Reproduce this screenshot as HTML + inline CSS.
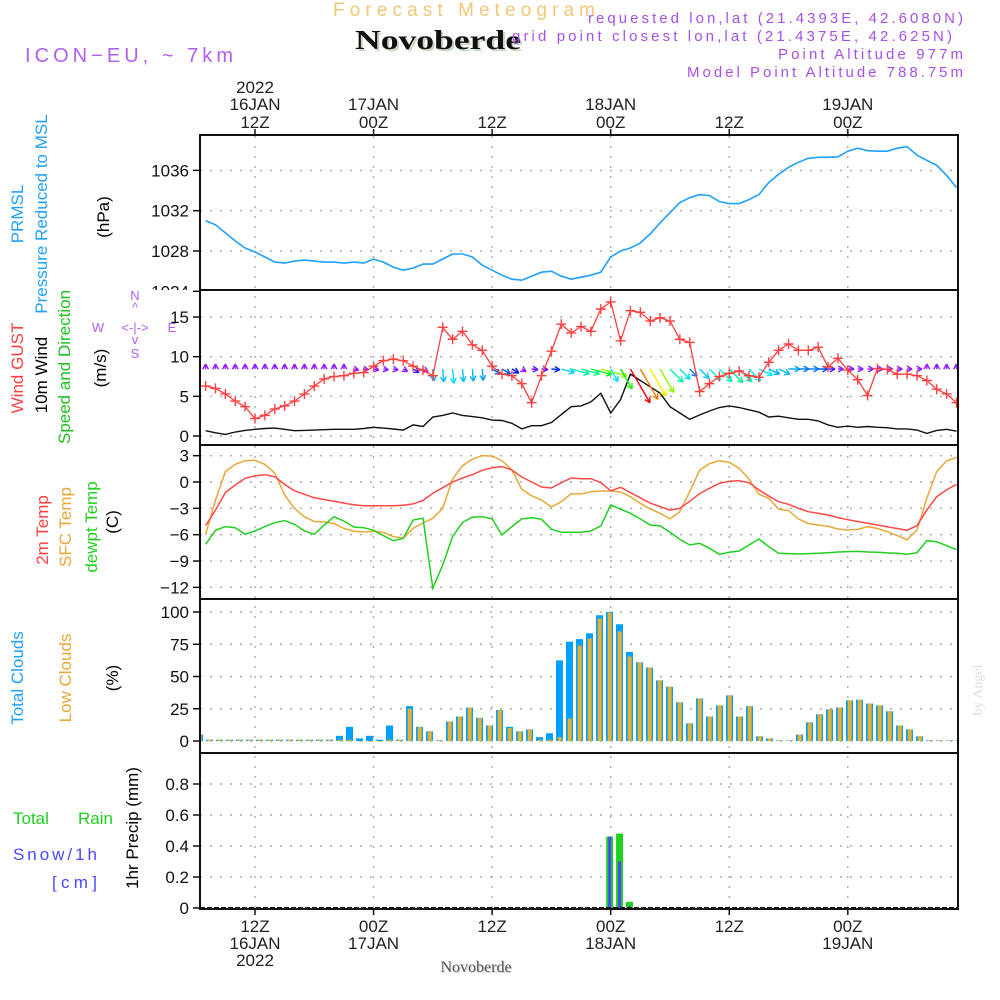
<!DOCTYPE html>
<html><head><meta charset="utf-8">
<style>
html,body{margin:0;padding:0;background:#fff;}
svg{display:block;font-family:"Liberation Sans",sans-serif;}
</style></head>
<body>
<svg id="chart" width="1000" height="1000" viewBox="0 0 1000 1000" xmlns="http://www.w3.org/2000/svg">
<defs>
<clipPath id="plotclip"><rect x="201" y="136" width="757" height="772"/></clipPath>
<clipPath id="pclip"><rect x="0" y="0" width="200" height="290"/></clipPath>
</defs>
<rect x="0" y="0" width="1000" height="1000" fill="#fff"/>
<!-- header -->
<text x="333" y="16" font-size="19" fill="#f0c878" textLength="262" lengthAdjust="spacing">Forecast Meteogram</text>
<text x="357" y="51" font-size="27" font-weight="bold" font-family="Liberation Serif, serif" fill="#c8d8c0" textLength="166" lengthAdjust="spacingAndGlyphs">Novoberde</text>
<text x="355" y="49" font-size="27" font-weight="bold" font-family="Liberation Serif, serif" fill="#111" textLength="166" lengthAdjust="spacingAndGlyphs">Novoberde</text>
<text x="25" y="62" font-size="20" fill="#b060f0" textLength="208" lengthAdjust="spacing">ICON−EU, ~ 7km</text>
<text x="963" y="23" font-size="15" fill="#a850e8" text-anchor="end" textLength="375" lengthAdjust="spacing">requested lon,lat (21.4393E, 42.6080N)</text>
<text x="952" y="41" font-size="15" fill="#a850e8" text-anchor="end" textLength="440" lengthAdjust="spacing">grid point closest lon,lat (21.4375E, 42.625N)</text>
<text x="963" y="59" font-size="15" fill="#a850e8" text-anchor="end" textLength="185" lengthAdjust="spacing">Point Altitude 977m</text>
<text x="963" y="77" font-size="15" fill="#a850e8" text-anchor="end" textLength="276" lengthAdjust="spacing">Model Point Altitude 788.75m</text>
<!-- left labels -->
<g font-size="17">
<text transform="translate(23,214) rotate(-90)" text-anchor="middle" fill="#20a0ff">PRMSL</text>
<text transform="translate(47,214) rotate(-90)" text-anchor="middle" fill="#20a0ff">Pressure Reduced to MSL</text>
<text transform="translate(109,217) rotate(-90)" text-anchor="middle" fill="#000">(hPa)</text>
<text transform="translate(23,368) rotate(-90)" text-anchor="middle" fill="#ff4040">Wind GUST</text>
<text transform="translate(47,375) rotate(-90)" text-anchor="middle" fill="#000">10m Wind</text>
<text transform="translate(70,367) rotate(-90)" text-anchor="middle" fill="#20c020">Speed and Direction</text>
<text transform="translate(106,368) rotate(-90)" text-anchor="middle" fill="#000">(m/s)</text>
<text transform="translate(48,530) rotate(-90)" text-anchor="middle" fill="#ff4040">2m Temp</text>
<text transform="translate(71,527) rotate(-90)" text-anchor="middle" fill="#e8a838">SFC Temp</text>
<text transform="translate(97,527) rotate(-90)" text-anchor="middle" fill="#20d020">dewpt Temp</text>
<text transform="translate(118,522) rotate(-90)" text-anchor="middle" fill="#000">(C)</text>
<text transform="translate(23,678) rotate(-90)" text-anchor="middle" fill="#20a0ff">Total Clouds</text>
<text transform="translate(71,678) rotate(-90)" text-anchor="middle" fill="#e8a838">Low Clouds</text>
<text transform="translate(118,678) rotate(-90)" text-anchor="middle" fill="#000">(%)</text>
<text transform="translate(138,828) rotate(-90)" text-anchor="middle" fill="#000">1hr Precip (mm)</text>
<text x="13" y="824" fill="#20d020">Total</text>
<text x="78" y="824" fill="#20d020">Rain</text>
<text x="13" y="860" fill="#4848ff" textLength="84" lengthAdjust="spacing">Snow/1h</text>
<text x="52" y="888" fill="#4848ff" textLength="45" lengthAdjust="spacing">[cm]</text>
</g>
<g font-size="13" fill="#b060f0" text-anchor="middle">
<text x="135" y="300">N</text><text x="135" y="312">^</text>
<text x="98" y="332">W</text><text x="135" y="332">&lt;-|-&gt;</text><text x="172" y="332">E</text>
<text x="135" y="344">v</text><text x="135" y="358">S</text>
</g>
<text transform="translate(982,690) rotate(-90)" text-anchor="middle" font-size="14" font-family="Liberation Serif, serif" fill="#ddd">by Angel</text>
<g id="grid"></g>
<g id="marks" clip-path="url(#plotclip)"></g>
<g id="axes"></g>
<text x="477" y="973" text-anchor="middle" font-size="16" font-family="Liberation Serif, serif" fill="#ccc">Novoberde</text>
<text x="476" y="972" text-anchor="middle" font-size="16" font-family="Liberation Serif, serif" fill="#555">Novoberde</text>
</svg>
<script>
// ---------- data ----------
const hourStart = -5; // hours relative to 16JAN 12Z
const pressure = [1031.0,1030.6,1029.8,1029.0,1028.3,1027.9,1027.4,1026.9,1026.8,1027.0,1027.1,1027.0,1026.9,1026.9,1026.8,1026.9,1026.8,1027.2,1026.9,1026.4,1026.1,1026.3,1026.7,1026.7,1027.2,1027.7,1027.7,1027.4,1026.6,1026.1,1025.6,1025.2,1025.1,1025.5,1025.9,1026.0,1025.5,1025.2,1025.4,1025.6,1025.9,1027.4,1028.0,1028.3,1028.8,1029.7,1030.8,1031.8,1032.8,1033.3,1033.6,1033.5,1032.9,1032.7,1032.7,1033.1,1033.6,1034.8,1035.6,1036.3,1036.8,1037.2,1037.3,1037.3,1037.35,1037.9,1038.2,1037.95,1037.9,1037.9,1038.2,1038.35,1037.5,1037.0,1036.5,1035.5,1034.3];
const gust = [6.3,6.0,5.3,4.4,3.7,2.2,2.6,3.4,3.8,4.4,5.3,6.3,7.2,7.5,7.6,7.9,8.0,8.8,9.5,9.7,9.5,8.8,8.3,7.6,13.7,12.2,13.2,11.5,10.8,8.8,7.8,7.6,6.6,4.2,7.6,10.7,14.1,13.0,13.8,13.2,16.0,16.9,12.0,15.8,15.6,14.5,14.9,14.5,12.2,11.8,5.6,6.6,7.5,7.9,8.2,7.6,7.4,9.3,10.8,11.6,10.8,10.8,11.2,8.7,9.8,8.3,7.1,5.1,8.5,8.4,7.8,7.8,7.6,7.0,5.9,5.3,4.2];
const wind10 = [0.67,0.4,0.2,0.5,0.7,0.85,0.95,1.0,0.85,0.67,0.7,0.75,0.8,0.85,0.85,0.85,0.95,1.1,1.0,0.88,0.75,1.4,1.2,2.4,2.6,2.9,2.6,2.45,2.3,2.0,1.95,1.6,0.9,1.3,1.3,1.7,2.7,3.7,3.8,4.3,5.4,2.9,4.6,7.8,7.0,6.2,5.4,3.7,2.9,2.1,2.65,3.15,3.6,3.8,3.6,3.3,3.0,2.4,2.5,2.3,2.1,2.1,1.9,1.4,1.1,1.25,1.1,1.2,1.1,1.05,0.9,0.9,0.75,0.33,0.7,0.85,0.6];
const windDir = [-90,-90,-90,-90,-90,-90,-90,-90,-90,-90,-90,-90,-90,-90,-90,10,10,10,10,10,30,30,30,85,85,85,85,85,85,30,30,30,30,5,5,5,15,15,15,15,15,60,60,60,60,60,60,45,45,45,45,45,45,45,45,45,25,25,25,0,0,0,0,0,0,0,0,0,0,0,0,0,0,-90,-90,-90,-90];
const t2m = [-4.97,-3.2,-1.2,-0.34,0.42,0.72,0.83,0.6,-0.27,-1.0,-1.4,-1.8,-2.0,-2.2,-2.4,-2.6,-2.7,-2.7,-2.7,-2.7,-2.65,-2.5,-2.1,-1.3,-0.65,0,0.45,0.83,1.33,1.63,1.75,1.37,0.57,0,-0.57,-0.68,-0.08,0.45,0.38,0.38,-0.08,-1.0,-0.6,-1.2,-1.8,-2.4,-2.8,-3.2,-3.0,-2.2,-1.33,-0.72,-0.15,0.08,0.15,-0.08,-0.9,-1.6,-2.24,-2.54,-3.0,-3.38,-3.57,-3.76,-4.06,-4.29,-4.5,-4.7,-4.9,-5.1,-5.3,-5.5,-4.97,-3.2,-1.67,-0.9,-0.27];
const tsfc = [-6.0,-2.05,1.18,2.0,2.43,2.47,2.0,1.0,-1.48,-3.0,-3.95,-4.5,-4.55,-4.74,-5.28,-5.6,-5.7,-5.6,-5.73,-6.22,-6.4,-5.28,-4.67,-4.14,-3.0,0.34,1.86,2.6,3.0,2.96,2.43,1.37,-0.83,-1.56,-2.05,-2.85,-2.24,-1.33,-1.37,-1.1,-1.02,-1.02,-1.14,-1.67,-2.43,-3.07,-3.57,-4.2,-3.38,-1.1,1.33,2.09,2.43,2.24,1.56,0.34,-1.4,-1.86,-3.1,-3.26,-4.2,-4.74,-4.9,-5.05,-5.35,-5.47,-5.4,-5.09,-5.28,-5.65,-6.1,-6.57,-5.47,-1.86,1.18,2.4,2.8];
const tdew = [-7.1,-5.5,-5.08,-5.2,-5.96,-5.58,-5.08,-4.63,-4.4,-4.82,-5.58,-5.96,-4.9,-3.95,-4.44,-5.12,-5.2,-5.5,-6.1,-6.68,-6.41,-4.33,-4.14,-12.1,-9.45,-6.22,-4.6,-4.0,-3.95,-4.2,-6.03,-5.08,-4.2,-4.06,-4.25,-5.39,-5.73,-5.73,-5.73,-5.58,-5.0,-2.62,-3.1,-3.57,-4.2,-4.9,-5.0,-5.73,-6.53,-7.17,-6.98,-7.55,-8.24,-8.0,-7.86,-7.17,-6.49,-7.36,-8.12,-8.16,-8.2,-8.16,-8.12,-8.05,-7.97,-7.93,-7.9,-7.97,-8.0,-8.08,-8.12,-8.24,-8.05,-6.68,-6.8,-7.25,-7.7];
const cloudStart = -6;
const cloudTotal = [5,1,1,1,1,1,1,1,1,1,1,1,1,1,4,11,2,4,1,12,1,27,11,7.5,0.5,15,19,26,18,12,24,11,7.5,9,3,6,62.5,77,79,83.5,97.5,100,90.5,69,61,57,47,42,30,13.7,33,19,27.6,35.4,19,27,3.6,2,0.5,0.5,5,14.5,20.7,24.5,26,31.5,32,29,27.6,23,12,9,3.6,0.5,0.5,0.5,0.5];
const cloudLow = [5,1,1,1,1,1,1,1,1,1,1,1,1,1,1,1,0,0,0,1,1,25,11,7.5,0.5,15,19,26,18,12,24,10,7.5,9,1,1,3,17.5,74,79.5,95,99.5,85,65.5,61,57,47,42,30,13.7,33,19,27.6,35.4,19,27,3.6,2,0.5,0.5,5,14.5,20.7,24.5,26,31.5,32,29,27.6,23,12,9,3.6,0.5,0.5,0.5,0.5];
const precipHours = [36,37,38];
const precipTotal = [0.46,0.48,0.04];
const precipSnow = [0.46,0.30,0.01];
const pTicks = [1024,1028,1032,1036];
const wTicks = [0,5,10,15];
const tTicks = [3,0,-3,-6,-9,-12];
const cTicks = [0,25,50,75,100];
const rTicks = [0,0.2,0.4,0.6,0.8];
const timeTicks = [0,12,24,36,48,60];
const timeLabelTop = [["2022","16JAN","12Z"],["","17JAN","00Z"],["","","12Z"],["","18JAN","00Z"],["","","12Z"],["","19JAN","00Z"]];
const timeLabelBottom = [["12Z","16JAN","2022"],["00Z","17JAN",""],["12Z","",""],["00Z","18JAN",""],["12Z","",""],["00Z","19JAN",""]];

// ---------- scales ----------
const X0 = 255, PXH = 9.88;
function x(h){ return X0 + h*PXH; }
function xBar(h){ return 209.5 + (h+5)*10; }
function yP(p){ return 251 - (p-1028)*10.08; }
function yW(v){ return 436 - v*7.93; }
function yT(t){ return 482 - t*8.78; }
function yC(c){ return 741 - c*1.29; }
function yR(r){ return 908 - r*155; }
const L = 200, R = 958;
const panels = [[135,290],[290,445],[445,599],[599,753],[753,909]];

const NS = "http://www.w3.org/2000/svg";
function mk(tag, attrs, parent){
  const el = document.createElementNS(NS, tag);
  for (const k in attrs) el.setAttribute(k, attrs[k]);
  parent.appendChild(el);
  return el;
}
const grid = document.getElementById('grid');
const marks = document.getElementById('marks');
const axes = document.getElementById('axes');

function hgrid(vals, f, name){
  vals.forEach(v => {
    const ln = mk('line', {x1:L, x2:R, y1:f(v), y2:f(v), stroke:'#aaa', 'stroke-width':1.4, 'stroke-dasharray':'2,8'}, grid);
    
    
  });
}
hgrid(pTicks.slice(1), yP, 'pressure');
hgrid(wTicks, yW, 'wind');
hgrid(tTicks, yT, 'temp');
hgrid(cTicks, yC, 'cloud');
hgrid(rTicks.slice(1), yR, 'precip');
timeTicks.forEach(h => {
  const ln = mk('line', {x1:x(h), x2:x(h), y1:136, y2:908, stroke:'#aaa', 'stroke-width':1.4, 'stroke-dasharray':'2,8'}, grid);
  
  
});

function pathOf(arr, start, fy){
  return arr.map((v,i) => (i?'L':'M') + x(start+i).toFixed(1) + ',' + fy(v).toFixed(1)).join(' ');
}

const pLine = mk('path', {d:pathOf(pressure, hourStart, yP), fill:'none', stroke:'#20a0ff', 'stroke-width':1.6}, marks);



const wLine = mk('path', {d:pathOf(wind10, hourStart, yW), fill:'none', stroke:'#111', 'stroke-width':1.4}, marks);



function speedColor(v){
  const st = [[0,275],[1.2,270],[1.6,235],[2.3,200],[3.5,170],[4.6,115],[5.5,80],[6.2,58],[7,30],[7.8,0]];
  let h = 0;
  if (v <= st[0][0]) h = st[0][1];
  else if (v >= st[st.length-1][0]) h = 0;
  else for (let i=0;i<st.length-1;i++){ if (v>=st[i][0] && v<=st[i+1][0]) { const f=(v-st[i][0])/(st[i+1][0]-st[i][0]); h = st[i][1] + f*(st[i+1][1]-st[i][1]); break; } }
  return 'hsl(' + h.toFixed(0) + ',100%,' + (h>250?'55%':'48%') + ')';
}
const arrowBase = 369;
wind10.forEach((v,i) => {
  const h = hourStart + i;
  const a = windDir[i]*Math.PI/180;
  const len = Math.max(5, 5*v);
  const x0 = x(h), y0 = arrowBase;
  const x1 = x0 + len*Math.cos(a), y1 = y0 + len*Math.sin(a);
  const col = speedColor(v);
  const g = mk('g', {stroke:col, 'stroke-width':1.4, fill:'none'}, marks);
  
  
  mk('line', {x1:x0, y1:y0, x2:x1, y2:y1}, g);
  const hl = 6;
  [a+Math.PI-0.5, a+Math.PI+0.5].forEach(b => mk('line', {x1:x1, y1:y1, x2:x1+hl*Math.cos(b), y2:y1+hl*Math.sin(b)}, g));
});

const gLine = mk('path', {d:pathOf(gust, hourStart, yW), fill:'none', stroke:'#ff4040', 'stroke-width':1.3}, marks);


gust.forEach((v,i) => {
  const cx = x(hourStart+i), cy = yW(v);
  const m = mk('path', {d:'M'+(cx-5)+','+cy+' L'+(cx+5)+','+cy+' M'+cx+','+(cy-5)+' L'+cx+','+(cy+5), stroke:'#ff4040', 'stroke-width':1.4}, marks);
  
  
});

[[tsfc,'#e8a838','sfc-temp-line'],[t2m,'#ff4848','t2m-line'],[tdew,'#20d020','dewpoint-line']].forEach(s => {
  const p = mk('path', {d:pathOf(s[0], hourStart, yT), fill:'none', stroke:s[1], 'stroke-width':1.5}, marks);
  
  
});

cloudTotal.forEach((v,i) => {
  const h = cloudStart + i;
  const cx = xBar(h);
  const b = mk('rect', {x:cx-3.5, y:yC(v), width:7, height:Math.max(0.5, yC(0)-yC(v)), fill:'#00a0ff'}, marks);
  
  
  const lv = cloudLow[i];
  const b2 = mk('rect', {x:cx-1.8, y:yC(lv), width:4, height:Math.max(0.5, yC(0)-yC(lv)), fill:'#e8b030'}, marks);
  
  
});

precipHours.forEach((h,i) => {
  const cx = x(h) - 1;
  const b = mk('rect', {x:cx-3.5, y:yR(precipTotal[i]), width:7, height:yR(0)-yR(precipTotal[i]), fill:'#20d020'}, marks);
  
  
  const s = mk('rect', {x:cx-1.5, y:yR(precipSnow[i]), width:3, height:yR(0)-yR(precipSnow[i]), fill:'#4848ff'}, marks);
  
  
});

panels.forEach((p,i) => {
  const r = mk('rect', {x:L, y:p[0], width:R-L, height:p[1]-p[0], fill:'none', stroke:'#111', 'stroke-width':2}, axes);
  
  
});
const base = mk('line', {x1:L, x2:R, y1:908, y2:908, stroke:'#111', 'stroke-width':2, 'stroke-dasharray':'5,2'}, axes);



function yaxis(vals, f, name, fmt, clip){
  vals.forEach(v => {
    const t = mk('line', {x1:193, x2:L, y1:f(v), y2:f(v), stroke:'#111', 'stroke-width':1.5}, axes);
    
    
    const lb = mk('text', {x:189, y:f(v)+6, 'text-anchor':'end', 'font-size':17, fill:'#111'}, axes);
    if (clip) lb.setAttribute('clip-path', 'url(#pclip)');
    lb.textContent = fmt(v);
    
    
  });
}
yaxis(pTicks, yP, 'pressure', v => String(v), true);
yaxis(wTicks, yW, 'wind', v => String(v), false);
yaxis(tTicks, yT, 'temp', v => (v<0?'−':'') + Math.abs(v), false);
yaxis(cTicks, yC, 'cloud', v => String(v), false);
yaxis(rTicks, yR, 'precip', v => v===0?'0':v.toFixed(1), false);

timeTicks.forEach((h,i) => {
  const t1 = mk('line', {x1:x(h), x2:x(h), y1:129, y2:135, stroke:'#111', 'stroke-width':1.5}, axes);
  
  
  const t2 = mk('line', {x1:x(h), x2:x(h), y1:909, y2:915, stroke:'#111', 'stroke-width':1.5}, axes);
  
  
  const topY = [93,110,128];
  timeLabelTop[i].forEach((s,k) => {
    if (!s) return;
    const tx = mk('text', {x:x(h), y:topY[k], 'text-anchor':'middle', 'font-size':17, fill:'#222'}, axes);
    tx.textContent = s;
    
    
  });
  const botY = [932,949,966];
  timeLabelBottom[i].forEach((s,k) => {
    if (!s) return;
    const tx = mk('text', {x:x(h), y:botY[k], 'text-anchor':'middle', 'font-size':17, fill:'#222'}, axes);
    tx.textContent = s;
    
    
  });
});
</script>
</body></html>
